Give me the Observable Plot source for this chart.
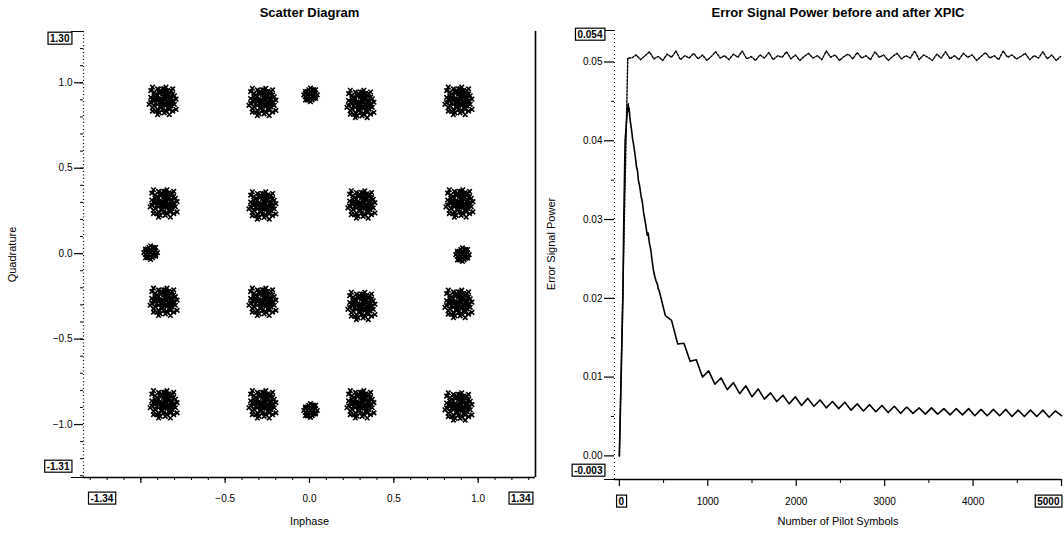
<!DOCTYPE html>
<html>
<head>
<meta charset="utf-8">
<script src="https://cdn.jsdelivr.net/npm/d3@7"></script>
<script src="https://cdn.jsdelivr.net/npm/@observablehq/plot@0.6"></script>
<style>
  html, body { margin: 0; padding: 0; background: #fff; }
  #wrap { position: relative; width: 1064px; height: 536px; background: #fff; overflow: hidden; }
  #left, #right { position: absolute; top: 0; }
  #left { left: 0; }
  #right { left: 540px; }
</style>
</head>
<body>
<div id="wrap"><div id="left"></div><div id="right"></div></div>
<script>
// ---------- Scatter diagram data ----------
const clusterX = [-0.871, -0.279, 0.302, 0.883,  -0.865, -0.279, 0.308, 0.889,  -0.865, -0.279, 0.308, 0.883,  -0.865, -0.279, 0.302, 0.883,  0.006, -0.942, 0.907, 0.006];
const clusterY = [0.894, 0.888, 0.876, 0.894,  0.294, 0.282, 0.288, 0.294,  -0.282, -0.282, -0.306, -0.294,  -0.882, -0.882, -0.882, -0.894,  0.929, 0.006, -0.006, -0.918];
const clusterKind = ["big","big","big","big","big","big","big","big","big","big","big","big","big","big","big","big","small","small","small","small"];
// hand-read spread of the sample cloud round each centre (hundredths)
const bigSpread = [[0,0],[2,1],[-2,1],[1,-2],[-1,-3],[3,3],[-3,-2],[4,-1],[-4,2],[0,4],[1,5],[-2,5],[3,-4],[-3,-5],[5,2],[-5,0],[5,-3],[-5,-3],[2,-6],[-1,6],[6,0],[-6,1],[4,5],[-4,4],[4,-5],[-4,-6],[0,-5],[2,3],[-2,-1],[1,2],[-1,1],[3,0],[-3,3],[0,-2],[2,-2],[6,4],[-6,-4],[7,-2],[-7,2],[1,7],[-2,-7],[5,6],[-5,5],[6,-6],[-6,-6],[3,6],[-3,7],[7,3],[-7,-1],[0,7],[1,-7],[4,1],[-4,-1],[2,4],[-1,-4],[3,-2],[-3,1],[5,-1],[-5,3],[1,1],[-1,-1],[8,1],[-8,-2],[2,8],[-3,-8],[6,7],[-7,6],[8,-5],[-6,8],[4,-8]];
const smallSpread = [[0,0],[1,1],[-1,1],[1,-1],[-1,-1],[2,0],[-2,0],[0,2],[0,-2],[2,2],[-2,2],[2,-2],[-2,-2],[3,1],[-3,1],[3,-1],[-3,-1],[1,3],[-1,3],[1,-3],[-1,-3],[3,3],[-3,-3],[0,4],[4,0],[-4,0],[0,-4],[-3,2],[3,-2],[2,3],[-2,-3]];
const scatterXTicks = [-1.0, -0.5, 0.0, 0.5, 1.0];
const scatterYTicks = [1.0, 0.5, 0.0, -0.5, -1.0];
const scatterXDomain = [-1.34, 1.34];
const scatterYDomain = [-1.31, 1.30];

// ---------- Error signal power data ----------
const afterX = [0,40,50,65,85,100,105,110,120,130,140,150,160,170,180,195,205,215,230,245,260,275,285,300,315,325,340,355,370,385,400,415,430,440,
  450,520,590,660,730,800,870,940,1010,1080,1150,1220,1290,1360,1430,1500,1570,1640,1710,1780,1850,1920,1990,2060,2130,2200,2270,2340,2410,2480,2550,2620,2690,2760,2830,2900,2970,3040,3110,3180,3250,3320,3390,3460,3530,3600,3670,3740,3810,3880,3950,4020,4090,4160,4230,4300,4370,4440,4510,4580,4650,4720,4790,4860,4930,5000];
const afterY = [0,0.0200,0.0300,0.0400,0.0430,0.0447,0.0438,0.0442,0.0428,0.0420,0.0412,0.0402,0.0396,0.0388,0.0380,0.0366,0.0362,0.0350,0.0342,0.0330,0.0322,0.0308,0.0302,0.0292,0.0280,0.0283,0.0270,0.0262,0.0248,0.0236,0.0228,0.0222,0.0218,0.0212,
  0.0210,0.0178,0.0172,0.0142,0.0143,0.0120,0.0122,0.0100,0.0108,0.0091,
  0.0099,0.0084,0.0093,0.0079,0.0089,0.0075,0.0085,0.0072,0.0080,0.0069,
  0.0077,0.0066,0.0075,0.0064,0.0073,0.0063,0.0071,0.0061,0.0069,0.0060,
  0.0068,0.0058,0.0066,0.0057,0.0065,0.0056,0.0064,0.0055,0.0063,0.0054,
  0.0062,0.0054,0.0061,0.0053,0.0061,0.0053,0.0060,0.0052,0.0060,0.0052,
  0.0060,0.0051,0.0059,0.0051,0.0059,0.0051,0.0059,0.0050,0.0058,0.0050,
  0.0058,0.0050,0.0058,0.0049,0.0057,0.0051];
const beforeX = [0,95,140,190,240,290,340,390,440,490,540,590,640,690,740,790,840,890,940,990,1040,1090,1140,1190,1240,1290,1340,1390,1440,1490,1540,1590,1640,1690,1740,1790,1840,1890,1940,1990,2040,2090,2140,2190,2240,2290,2340,2390,2440,2490,2540,2590,2640,2690,2740,2790,2840,2890,2940,2990,3040,3090,3140,3190,3240,3290,3340,3390,3440,3490,3540,3590,3640,3690,3740,3790,3840,3890,3940,3990,4040,4090,4140,4190,4240,4290,4340,4390,4440,4490,4540,4590,4640,4690,4740,4790,4840,4890,4940,4990];
const beforeY = [0,0.0505,
  0.0505,0.0509,0.0503,0.0508,0.0513,0.0504,0.0507,0.0502,0.0510,0.0506,
  0.0514,0.0503,0.0508,0.0505,0.0511,0.0504,0.0509,0.0502,0.0507,0.0513,
  0.0505,0.0508,0.0503,0.0510,0.0506,0.0514,0.0504,0.0507,0.0502,0.0509,
  0.0505,0.0512,0.0503,0.0508,0.0506,0.0513,0.0504,0.0509,0.0502,0.0507,
  0.0511,0.0505,0.0508,0.0503,0.0514,0.0506,0.0509,0.0502,0.0507,0.0510,
  0.0504,0.0512,0.0505,0.0508,0.0503,0.0513,0.0506,0.0509,0.0502,0.0507,
  0.0511,0.0504,0.0508,0.0505,0.0514,0.0503,0.0509,0.0506,0.0502,0.0510,
  0.0505,0.0513,0.0504,0.0508,0.0503,0.0511,0.0506,0.0509,0.0502,0.0507,
  0.0512,0.0505,0.0508,0.0503,0.0514,0.0506,0.0509,0.0504,0.0507,0.0511,
  0.0503,0.0508,0.0505,0.0513,0.0504,0.0509,0.0502,0.0507];
const powerXTicks = [1000, 2000, 3000, 4000];
const powerXMinor = [500, 1500, 2500, 3500, 4500];
const powerYTicks = [0.00, 0.01, 0.02, 0.03, 0.04, 0.05];
const powerYMinor = [0.005, 0.015, 0.025, 0.035, 0.045];
const powerXDomain = [-55, 5000];
const powerYDomain = [-0.003, 0.054];
const boxedLabels = ["1.30", "-1.31", "-1.34", "1.34", "0.054", "-0.003", "0", "5000"];

// ---------- tables ----------
const scatterPoints = clusterX.flatMap((cx, i) => {
  const spread = clusterKind[i] === "big" ? bigSpread : smallSpread;
  return spread.map(([dx, dy]) => ({x: cx + dx / 100, y: clusterY[i] + dy / 100}));
});
const afterData = afterX.map((x, i) => ({x, y: afterY[i]}));
const beforeData = beforeX.map((x, i) => ({x, y: beforeY[i]}));
const minorScatterX = d3.range(-13, 14).map(d => d / 10);
const minorScatterY = d3.range(-13, 14).map(d => d / 10);

const FONT = "'Liberation Sans', Arial, Helvetica, sans-serif";
const fmt1 = d3.format(".1f");
const fmt2 = d3.format(".2f");

const left = Plot.plot({
  width: 540, height: 536,
  marginLeft: 83, marginRight: 5, marginTop: 31, marginBottom: 59,
  x: {domain: scatterXDomain},
  y: {domain: scatterYDomain},
  style: {fontFamily: FONT, fontSize: "10px", background: "white", color: "black"},
  marks: [
    Plot.dot(scatterPoints, {x: "x", y: "y", symbol: "times", r: 2.2, stroke: "black", strokeWidth: 1.6}),
    Plot.ruleX([scatterXDomain[0]], {stroke: "black", strokeWidth: 1.2, strokeDasharray: "1,2.5"}),
    Plot.ruleX([scatterXDomain[1]], {stroke: "black", strokeWidth: 1.6}),
    Plot.ruleY([scatterYDomain[0]], {stroke: "black", strokeWidth: 1.4}),
    Plot.axisY({ticks: scatterYTicks, tickSize: 9, tickPadding: 2, tickFormat: fmt1, label: null, strokeWidth: 1.2}),
    Plot.axisY({ticks: minorScatterY, tickSize: 3, tickFormat: () => "", label: null}),
    Plot.axisY({ticks: [scatterYDomain[1], scatterYDomain[0]], tickSize: 12, tickFormat: () => "", label: null}),
    Plot.axisX({ticks: scatterXTicks, tickSize: 6, tickPadding: 11, tickFormat: d => d === -1 ? "" : fmt1(d), label: null, strokeWidth: 1.2}),
    Plot.axisX({ticks: minorScatterX, tickSize: 3, tickFormat: () => "", label: null}),
    Plot.axisX({ticks: [scatterXDomain[0]], tickSize: 0, tickPadding: 17, dx: 7, textAnchor: "start", tickFormat: () => "-1.34", fontWeight: "bold", label: null}),
    Plot.axisX({ticks: [scatterXDomain[1]], tickSize: 0, tickPadding: 17, dx: -5, textAnchor: "end", tickFormat: () => "1.34", fontWeight: "bold", label: null}),
    Plot.text(["1.30"], {frameAnchor: "top-left", dx: -14, dy: 7, textAnchor: "end", lineAnchor: "middle", fontWeight: "bold"}),
    Plot.text(["-1.31"], {frameAnchor: "bottom-left", dx: -14, dy: -11, textAnchor: "end", lineAnchor: "middle", fontWeight: "bold"}),
    Plot.text(["Scatter Diagram"], {frameAnchor: "top", dy: -19, lineAnchor: "middle", fontSize: 13, fontWeight: "bold"}),
    Plot.text(["Inphase"], {frameAnchor: "bottom", dy: 44, lineAnchor: "middle", fontSize: 11}),
    Plot.text(["Quadrature"], {frameAnchor: "left", dx: -71, dy: 0, rotate: -90, textAnchor: "middle", lineAnchor: "middle", fontSize: 11})
  ]
});

const right = Plot.plot({
  width: 524, height: 536,
  marginLeft: 74, marginRight: 3, marginTop: 30, marginBottom: 57,
  x: {domain: powerXDomain},
  y: {domain: powerYDomain},
  style: {fontFamily: FONT, fontSize: "10px", background: "white", color: "black"},
  marks: [
    Plot.line(beforeData, {x: "x", y: "y", stroke: "black", strokeWidth: 1.4, strokeDasharray: "2,1.5"}),
    Plot.line(afterData, {x: "x", y: "y", stroke: "black", strokeWidth: 1.6}),
    Plot.ruleX([powerXDomain[0]], {stroke: "black", strokeWidth: 1.2, strokeDasharray: "1,3"}),
    Plot.ruleY([powerYDomain[0]], {stroke: "black", strokeWidth: 1.4}),
    Plot.axisY({ticks: powerYTicks, tickSize: 10, tickPadding: 2, tickFormat: fmt2, label: null, strokeWidth: 1.2}),
    Plot.axisY({ticks: powerYMinor, tickSize: 3, tickFormat: () => "", label: null}),
    Plot.axisY({ticks: [powerYDomain[1], powerYDomain[0]], tickSize: 10, tickFormat: () => "", label: null}),
    Plot.axisX({ticks: [0, ...powerXTicks, 5000], tickSize: 7, tickPadding: 11, tickFormat: d => (d === 0 || d === 5000) ? "" : String(d), label: null, strokeWidth: 1.2}),
    Plot.axisX({ticks: powerXMinor, tickSize: 4, tickFormat: () => "", label: null}),
    Plot.axisX({ticks: [0], tickSize: 0, tickPadding: 18, dx: 2, textAnchor: "middle", tickFormat: () => "0", fontWeight: "bold", label: null}),
    Plot.axisX({ticks: [5000], tickSize: 0, tickPadding: 18, dx: -2, textAnchor: "end", tickFormat: () => "5000", fontWeight: "bold", label: null}),
    Plot.text(["0.054"], {frameAnchor: "top-left", dx: -12, dy: 4, textAnchor: "end", lineAnchor: "middle", fontWeight: "bold"}),
    Plot.text(["-0.003"], {frameAnchor: "bottom-left", dx: -12, dy: -9, textAnchor: "end", lineAnchor: "middle", fontWeight: "bold"}),
    Plot.text(["Error Signal Power before and after XPIC"], {frameAnchor: "top", dy: -18, lineAnchor: "middle", fontSize: 13, fontWeight: "bold"}),
    Plot.text(["Number of Pilot Symbols"], {frameAnchor: "bottom", dy: 42, lineAnchor: "middle", fontSize: 11}),
    Plot.text(["Error Signal Power"], {frameAnchor: "left", dx: -63, dy: -11, rotate: -90, textAnchor: "middle", lineAnchor: "middle", fontSize: 11})
  ]
});

document.getElementById("left").appendChild(left);
document.getElementById("right").appendChild(right);

// draw boxes round the range-end labels
for (const svg of [left, right]) {
  svg.querySelectorAll("text").forEach(t => {
    if (!boxedLabels.includes(t.textContent.trim())) return;
    const b = t.getBBox();
    const r = document.createElementNS("http://www.w3.org/2000/svg", "rect");
    r.setAttribute("x", b.x - 2);
    r.setAttribute("y", b.y - 0.5);
    r.setAttribute("width", b.width + 4);
    r.setAttribute("height", b.height + 1);
    r.setAttribute("fill", "white");
    r.setAttribute("stroke", "black");
    r.setAttribute("stroke-width", "1.2");
    const tr = t.getAttribute("transform");
    if (tr) r.setAttribute("transform", tr);
    t.parentNode.insertBefore(r, t);
  });
}
</script>
</body>
</html>
